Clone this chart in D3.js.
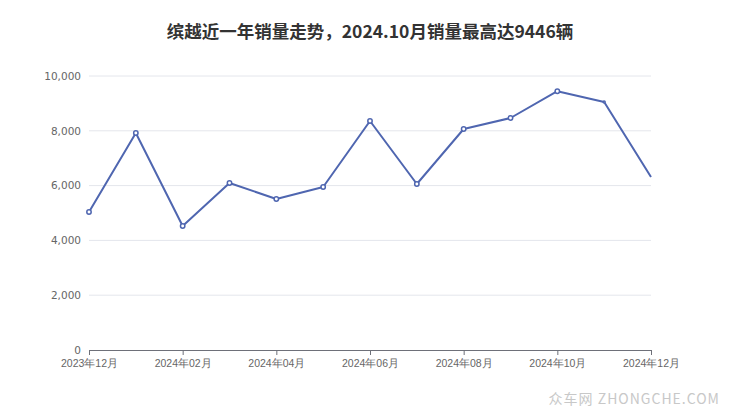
<!DOCTYPE html>
<html><head><meta charset="utf-8">
<script src="https://cdn.jsdelivr.net/npm/d3@7"></script>
<style>body{margin:0;background:#fff;}svg{display:block;font-family:"Noto Sans CJK SC","DejaVu Sans",sans-serif;}</style>
</head><body>
<svg id="c" width="740" height="417"></svg>
<script>
const months = ["2023年12月","2024年01月","2024年02月","2024年03月","2024年04月","2024年05月","2024年06月","2024年07月","2024年08月","2024年09月","2024年10月","2024年11月","2024年12月"];
const sales = [5036, 7920, 4526, 6095, 5511, 5949, 8358, 6058, 8066, 8467, 9446, 9051, 6314];
const yTicks = [0, 2000, 4000, 6000, 8000, 10000];
const title = "缤越近一年销量走势，2024.10月销量最高达9446辆";
const watermark = "众车网 ZHONGCHE.COM";

const svg = d3.select("#c");
const L = 89, R = 651, T = 76, B = 350;
const x = d3.scalePoint().domain(months).range([L, R]);
const y = d3.scaleLinear().domain([0, 10000]).range([B, T]);
const color = "#4f66b0";

svg.append("text").attr("x", 370).attr("y", 38).attr("text-anchor", "middle")
  .attr("font-size", 17.5).attr("font-weight", "bold").attr("fill", "#333").text(title);

// grid
svg.append("g").selectAll("line").data(yTicks.filter(d => d > 0)).join("line")
  .attr("x1", L).attr("x2", R).attr("y1", d => y(d)).attr("y2", d => y(d))
  .attr("stroke", "#e4e6ec").attr("stroke-width", 1);

// y axis labels
const ya = svg.append("g").attr("transform", `translate(${L},0)`)
  .call(d3.axisLeft(y).tickValues(yTicks).tickSize(0).tickPadding(8).tickFormat(d3.format(",")));
ya.select(".domain").remove();
ya.selectAll("text").attr("font-size", 10.5).attr("fill", "#666").attr("font-family", "'DejaVu Sans',sans-serif");

// x axis
const xa = svg.append("g").attr("transform", `translate(0,${B})`)
  .call(d3.axisBottom(x).tickValues(months.filter((d, i) => i % 2 === 0)).tickSize(5).tickPadding(5));
xa.select(".domain").attr("stroke", "#6e7079").attr("d", `M${L},0.5H${R}`);
xa.selectAll(".tick line").attr("stroke", "#6e7079");
xa.selectAll("text").attr("font-size", 10.5).attr("fill", "#666");

// line
const data = months.map((m, i) => ({m, v: sales[i], i}));
svg.append("path").datum(data)
  .attr("d", d3.line().x(d => x(d.m)).y(d => y(d.v)))
  .attr("fill", "none").attr("stroke", color).attr("stroke-width", 2).attr("stroke-linejoin", "round");

svg.append("g").selectAll("circle").data(data.filter(d => d.i < 12)).join("circle")
  .attr("cx", d => x(d.m)).attr("cy", d => y(d.v)).attr("r", d => d.i === 11 ? 1 : 2.2)
  .attr("fill", "#fff").attr("stroke", color).attr("stroke-width", 1.5);

svg.append("text").attr("x", 720).attr("y", 404).attr("text-anchor", "end")
  .attr("font-size", 14).attr("letter-spacing", 1).attr("fill", "#c8c8c8").text(watermark);
</script>
</body></html>
